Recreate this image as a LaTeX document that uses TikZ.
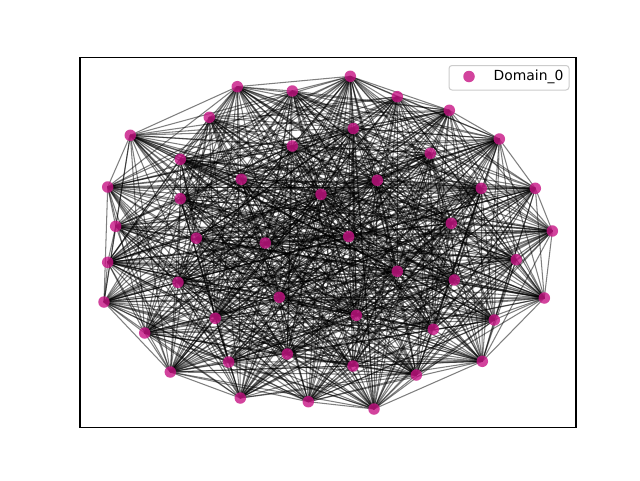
\documentclass[tikz,border=0pt]{standalone}
\usepackage{fontspec}
\setmainfont{DejaVu Sans}
\definecolor{nodecol}{RGB}{199,21,133}
\tikzset{
  edge/.style={draw=black, opacity=0.5, line width=1.05pt},
  vdot/.style={circle, fill=nodecol, fill opacity=0.8, draw=none, minimum size=11.5pt, inner sep=0pt},
  frame/.style={draw=black, line width=1.1pt},
  legendbox/.style={draw=black!20, fill=white, fill opacity=0.8, rounded corners=3pt, line width=1pt}
}
\begin{document}
\begin{tikzpicture}[x=1pt,y=-1pt]
\useasboundingbox (0,0) rectangle (640,480);
\fill[white] (0,0) rectangle (640,480);
% node positions
\foreach \k/\px/\py in {
 1/350.3/76.3, 2/292.3/91, 3/237.3/86.7, 4/397.3/96.7, 5/449.3/110.3,
 6/499.3/139, 7/130.3/135.3, 8/209.3/117.3, 9/535.3/188.3, 10/552.3/231,
 11/107.7/187, 12/115.7/226.3, 13/107.7/262.3, 14/104/302, 15/516.3/259.7,
 16/544.3/298, 17/494.3/320, 18/144.7/333, 19/170.3/372, 20/228.7/362,
 21/240.3/398, 22/308.3/401.7, 23/374/409, 24/416.3/375, 25/482.3/361.3,
 26/353/366, 27/353.3/128.5, 28/292.3/146, 29/180.3/159.3, 30/430.3/153.3,
 31/241.3/179.3, 32/377.3/180.3, 33/321/194.3, 34/481.3/188.3, 35/180.3/198.7,
 36/451.3/223.3, 37/196.3/238.2, 38/265.3/243, 39/348.7/236.5, 40/397.3/271.3,
 41/178/282.3, 42/454.3/280, 43/279.3/297.3, 44/215.3/318.3, 45/356.3/315.3,
 46/433.3/329.3, 47/287.3/354}
 { \coordinate (n\k) at (\px,\py); }
% edges (random subset)
\pgfmathsetseed{4242}
\foreach \i in {1,...,46}{
  \pgfmathtruncatemacro\jstart{\i+1}
  \foreach \j in {\jstart,...,47}{
    \pgfmathparse{rnd}
    \ifdim\pgfmathresult pt<0.75pt
      \draw[edge] (n\i) -- (n\j);
    \fi
  }
}
% vertices
\foreach \k in {1,...,47}{ \node[vdot] (v\k) at (n\k) {}; }
% axes frame
\draw[frame] (80,57.6) rectangle (576,427.2);
% legend
\draw[legendbox] (449,65.5) rectangle (569,90);
\node[vdot] (legmark) at (469,76.5) {};
\node[anchor=west, inner sep=0pt, font=\fontsize{13.9pt}{16pt}\selectfont] (legtext) at (493.5,77) {Domain\_0};
\end{tikzpicture}
\end{document}
